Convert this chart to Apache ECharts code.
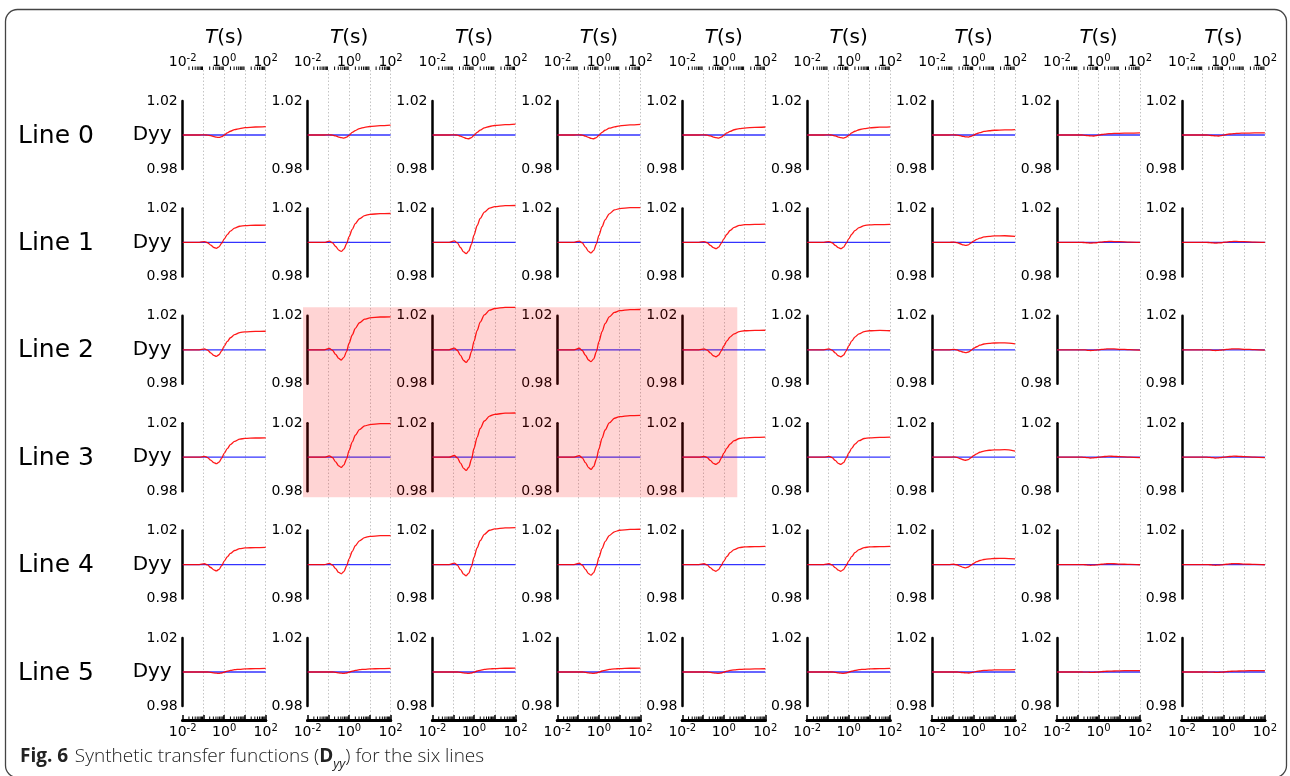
<!DOCTYPE html>
<html><head><meta charset="utf-8">
<script src="https://cdn.jsdelivr.net/npm/echarts@6/dist/echarts.min.js"></script>
<style>html,body{margin:0;padding:0;background:#fff}#c{width:1290px;height:776px}</style>
</head><body><div id="c"></div>
<script>
// ---------------- data ----------------
const ROW_NAMES = ['Line 0', 'Line 1', 'Line 2', 'Line 3', 'Line 4', 'Line 5'];
const Y_NAME = 'Dyy';
const X_TITLE = 'T(s)';
const Y_TICKS = ['0.98', '1.02'];
const X_DECADES = [-2, -1, 0, 1, 2];              // log10 T of decade ticks
const X_TICK_EXP = { '-2': '-2', '0': '0', '2': '2' }; // labelled decades 10^-2, 10^0, 10^2
// sample periods (log10 T)
const LOG_T = [-2, -1.2, -0.95, -0.8, -0.65, -0.5, -0.38, -0.25, -0.12, 0, 0.15, 0.3, 0.5, 0.75, 1, 1.5, 2];
// reference line (blue)
const BLUE = [1, 1, 1, 1, 1, 1, 1, 1, 1, 1, 1, 1, 1, 1, 1, 1, 1];
// red curves: (Dyy - 1) in units of 1e-4, one array per panel column
const RED_UNIT = 1e-4;
const LINE0_RED = [
  [0,0,1,-1,-4,-9,-13,-14,-10,-1,12,22,32,38,43,47,49],
  [0,0,1,-1,-5,-12,-16,-18,-13,-2,15,26,38,45,50,55,58],
  [0,0,1,-1,-7,-14,-20,-22,-15,-2,16,29,42,50,56,61,64],
  [0,0,1,-1,-7,-14,-20,-22,-15,-2,16,28,40,48,54,59,62],
  [0,0,1,-1,-5,-12,-16,-18,-13,-2,12,21,31,37,41,45,47],
  [0,0,1,-1,-5,-12,-16,-18,-13,-2,12,22,31,37,42,46,48],
  [0,0,1,-1,-4,-8,-11,-12,-8,-1,8,14,21,25,28,30,32],
  [0,0,0,0,-2,-4,-5,-6,-4,-1,3,5,8,9,10,11,12],
  [0,0,0,0,-2,-4,-5,-6,-4,-1,3,6,8,10,11,12,13]
];
const LINE1_RED = [
  [0,0,5,-2,-16,-30,-35,-26,-5,20,46,66,84,95,99,101,102],
  [0,0,7,-3,-24,-45,-53,-40,-8,34,77,111,139,158,165,169,170],
  [0,0,9,-3,-30,-56,-66,-50,-10,43,98,141,178,202,210,216,217],
  [0,0,8,-3,-28,-53,-62,-47,-9,41,92,133,168,191,199,204,205],
  [0,0,5,-2,-17,-31,-37,-28,-6,21,48,70,88,100,104,106,107],
  [0,0,5,-2,-17,-31,-37,-28,-6,21,48,69,87,99,103,105,106],
  [0,0,2,-1,-8,-15,-18,-14,-3,8,18,25,32,36,38,39,36],
  [0,0,0,0,-1,-3,-4,-3,-2,0,2,4,6,5,4,2,0],
  [0,0,0,0,-1,-3,-4,-3,-2,0,2,4,6,5,4,2,0]
];
const LINE2_RED = [
  [0,0,5,-2,-18,-33,-39,-29,-6,22,49,71,89,101,106,108,109],
  [0,0,8,-3,-27,-51,-60,-45,-9,39,87,126,159,180,188,193,194],
  [0,0,10,-4,-33,-63,-74,-56,-11,50,113,163,205,233,243,249,250],
  [0,0,9,-4,-32,-60,-70,-53,-11,47,107,154,194,220,230,236,237],
  [0,0,5,-2,-18,-35,-41,-31,-6,23,52,75,94,107,112,114,115],
  [0,0,5,-2,-18,-35,-41,-31,-6,23,52,75,94,107,112,114,112],
  [0,0,2,-1,-8,-14,-17,-13,-3,8,18,27,34,38,40,41,35],
  [0,0,0,0,-1,-3,-4,-3,-2,0,2,4,6,5,3,1,-2],
  [0,0,0,0,-1,-3,-4,-3,-2,0,2,4,6,5,3,1,-2]
];
const LINE3_RED = [
  [0,0,5,-2,-17,-32,-38,-29,-6,23,51,74,93,106,111,113,114],
  [0,0,8,-3,-27,-51,-60,-45,-9,40,89,129,162,184,192,197,198],
  [0,0,10,-4,-35,-66,-78,-59,-12,52,117,169,213,242,252,259,260],
  [0,0,9,-4,-32,-61,-72,-54,-11,49,111,160,202,229,239,245,246],
  [0,0,5,-2,-19,-36,-42,-32,-6,24,53,77,97,110,114,117,118],
  [0,0,5,-2,-19,-36,-42,-32,-6,24,53,77,97,110,114,117,118],
  [0,0,2,-1,-8,-15,-18,-14,-3,9,20,29,36,41,43,44,36],
  [0,0,0,0,-1,-3,-5,-4,-2,0,2,4,6,5,3,1,-2],
  [0,0,0,0,-1,-3,-5,-4,-2,0,2,4,6,5,3,1,-2]
];
const LINE4_RED = [
  [0,0,5,-2,-17,-31,-37,-28,-6,20,45,66,83,94,98,100,101],
  [0,0,7,-3,-24,-46,-54,-41,-8,34,77,111,140,159,166,170,171],
  [0,0,9,-3,-30,-56,-66,-50,-10,43,98,141,178,202,210,216,217],
  [0,0,8,-3,-28,-53,-62,-47,-9,42,94,135,171,193,202,207,208],
  [0,0,5,-2,-18,-33,-39,-29,-6,21,48,70,88,100,104,106,107],
  [0,0,5,-2,-18,-33,-39,-29,-6,21,48,70,88,100,104,106,107],
  [0,0,2,-1,-9,-16,-19,-14,-3,7,17,24,30,34,36,37,34],
  [0,0,0,0,-1,-3,-4,-3,-2,0,2,4,6,5,3,1,-1],
  [0,0,0,0,-1,-3,-4,-3,-2,0,2,4,6,5,3,1,-1]
];
const LINE5_RED = [
  [0,0,0,0,-2,-5,-7,-8,-6,-1,5,9,14,16,18,20,21],
  [0,0,0,0,-2,-5,-7,-8,-6,-1,5,9,14,16,18,20,21],
  [0,0,0,0,-2,-5,-7,-8,-6,-1,6,10,15,18,20,22,23],
  [0,0,0,0,-2,-5,-7,-8,-6,-1,6,10,15,18,20,22,23],
  [0,0,0,0,-2,-5,-7,-8,-6,-1,5,9,12,15,17,18,19],
  [0,0,0,0,-2,-5,-7,-8,-6,-1,5,9,14,16,18,20,21],
  [0,0,0,0,-2,-4,-5,-6,-4,-1,4,6,9,11,12,13,14],
  [0,0,0,0,-1,-1,-2,-2,-1,0,2,4,5,6,7,8,8],
  [0,0,0,0,-1,-1,-2,-2,-1,0,2,4,5,6,7,8,8]
];
const RED_ROWS = [LINE0_RED, LINE1_RED, LINE2_RED, LINE3_RED, LINE4_RED, LINE5_RED];
const CAPTION_BOLD = 'Fig. 6';
const CAPTION = ['Synthetic transfer functions (', 'D', 'yy', ') for the six lines'];

// ---------------- layout ----------------
const L = { colX0: 182.7, colDX: 124.9, pw: 83, rowY0: 101, rowDY: 107.4, ph: 68, axTop: 70, axBot: 720 };
const colX = c => L.colX0 + c * L.colDX;
const rowY = r => L.rowY0 + r * L.rowDY;
const FONT = 'DejaVu Sans';

// minor tick positions (log10 of 2..9 x decade)
const MINOR = [];
for (let d = -2; d < 2; d++) for (let k = 2; k <= 9; k++) MINOR.push(Math.log10(k) + d);

const grid = [], xAxis = [], yAxis = [], series = [], graphic = [];

const tickRich = {
  b: { fontSize: 14, fontFamily: FONT, color: '#000', lineHeight: 18 },
  s: { fontSize: 10, fontFamily: FONT, color: '#000', lineHeight: 10, verticalAlign: 'top' }
};
const tickFmt = v => {
  const key = String(Math.round(v));
  return (Math.abs(v - Math.round(v)) < 1e-9 && X_TICK_EXP[key] !== undefined) ? '{b|10}{s|' + X_TICK_EXP[key] + '}' : '';
};

for (let c = 0; c < 9; c++) {
  const gi = grid.length;
  grid.push({ left: colX(c), top: L.axTop, width: L.pw, height: L.axBot - L.axTop });
  const xTop = xAxis.length;
  xAxis.push({
    gridIndex: gi, type: 'value', position: 'top', min: -2, max: 2, interval: 1,
    axisLine: { show: true, lineStyle: { color: '#000', width: 3 } },
    axisTick: { show: true, inside: false, length: 5, lineStyle: { color: '#000', width: 1.5 } },
    axisLabel: { show: true, margin: -1, formatter: tickFmt, rich: tickRich },
    splitLine: { show: true, showMinLine: false, lineStyle: { color: '#c4c4c4', width: 1, type: [1.5, 2] } },
    name: '{i|T}{n|(s)}', nameLocation: 'middle', nameGap: 21,
    nameTextStyle: { rich: {
      i: { fontSize: 20, fontFamily: FONT, fontStyle: 'italic', color: '#000' },
      n: { fontSize: 20, fontFamily: FONT, color: '#000' } } }
  });
  xAxis.push({
    gridIndex: gi, type: 'value', position: 'bottom', min: -2, max: 2, interval: 1,
    axisLine: { show: true, lineStyle: { color: '#000', width: 3 } },
    axisTick: { show: true, inside: true, length: 5, lineStyle: { color: '#000', width: 1.5 } },
    axisLabel: { show: true, margin: 3, formatter: tickFmt, rich: tickRich },
    splitLine: { show: false }
  });
  const yi = yAxis.length;
  yAxis.push({ gridIndex: gi, type: 'value', min: 0, max: 1, show: false, splitLine: { show: false } });
  const minorData = [];
  MINOR.forEach(m => { minorData.push([m, 1]); minorData.push([m, 0]); });
  series.push({
    type: 'custom', xAxisIndex: xTop, yAxisIndex: yi, data: minorData, silent: true, clip: false, z: 5,
    renderItem: (params, api) => {
      const p = api.coord([api.value(0), api.value(1)]);
      return { type: 'line', shape: { x1: p[0], y1: p[1], x2: p[0], y2: p[1] - 3.5 },
        style: { stroke: '#000', lineWidth: 1 } };
    }
  });
}

for (let r = 0; r < 6; r++) {
  const yMid = rowY(r) + L.ph / 2;
  for (let c = 0; c < 9; c++) {
    const gi = grid.length;
    grid.push({ left: colX(c), top: rowY(r), width: L.pw, height: L.ph });
    const xi = xAxis.length;
    xAxis.push({ gridIndex: gi, type: 'value', min: -2, max: 2, show: false, splitLine: { show: false } });
    const yi = yAxis.length;
    yAxis.push({
      gridIndex: gi, type: 'value', min: 0.98, max: 1.02, interval: 0.02,
      axisLine: { show: true, onZero: false, lineStyle: { color: '#000', width: 2.5 } },
      axisTick: { show: false },
      splitLine: { show: false },
      axisLabel: { show: true, margin: 5, fontSize: 14, fontFamily: FONT, color: '#000',
        formatter: v => { const s = v.toFixed(2); return Y_TICKS.indexOf(s) >= 0 ? s : ''; } }
    });
    series.push({
      type: 'line', xAxisIndex: xi, yAxisIndex: yi, showSymbol: false, symbol: 'none', silent: true, clip: false,
      data: LOG_T.map((x, i) => [x, BLUE[i]]),
      lineStyle: { color: '#0000ff', width: 1.3, opacity: 0.8 }, z: 3
    });
    const red = RED_ROWS[r][c];
    series.push({
      type: 'line', xAxisIndex: xi, yAxisIndex: yi, showSymbol: false, symbol: 'none', silent: true, clip: false,
      smooth: 0.3, smoothMonotone: 'x',
      data: LOG_T.map((x, i) => [x, 1 + red[i] * RED_UNIT]),
      lineStyle: { color: '#ff0000', width: 1.3, opacity: 0.9 }, z: 4
    });
  }
  graphic.push({
    type: 'text', x: 18, y: yMid + 1,
    style: { text: ROW_NAMES[r], fontSize: 25, fontFamily: FONT, fill: '#000', align: 'left', verticalAlign: 'middle' }
  });
  graphic.push({
    type: 'text', x: colX(0) - 11, y: yMid,
    style: { text: Y_NAME, fontSize: 20, fontFamily: FONT, fill: '#000', align: 'right', verticalAlign: 'middle' }
  });
}

// highlight box (rows 2-3, columns 1-4)
graphic.push({
  type: 'rect', z: 100,
  shape: { x: colX(1) - 4.6, y: rowY(2) - 8.5, width: colX(4) + 55 - (colX(1) - 4.6), height: rowY(3) + L.ph + 6 - (rowY(2) - 8.5) },
  style: { fill: 'rgba(255,0,0,0.17)' }
});
// figure frame
graphic.push({
  type: 'rect', z: 0,
  shape: { x: 5.5, y: 9.5, width: 1281, height: 768, r: 12 },
  style: { fill: 'none', stroke: '#444', lineWidth: 1.3 }
});
// caption
graphic.push({
  type: 'text', x: 20, y: 757,
  style: {
    text: '{b|' + CAPTION_BOLD + '}  {n|' + CAPTION[0] + '}{d|' + CAPTION[1] + '}{sub|' + CAPTION[2] + '}{n|' + CAPTION[3] + '}',
    align: 'left', verticalAlign: 'middle',
    rich: {
      b: { fontSize: 19, fontFamily: 'Open Sans', fontWeight: 'bold', fill: '#222', lineHeight: 22 },
      n: { fontSize: 19, fontFamily: 'Open Sans', fontWeight: 300, fill: '#222', lineHeight: 22 },
      d: { fontSize: 19, fontFamily: 'Open Sans', fontWeight: 'bold', fill: '#222', lineHeight: 22 },
      sub: { fontSize: 13, fontFamily: 'Open Sans', fontStyle: 'italic', fill: '#222', lineHeight: 13, verticalAlign: 'bottom', padding: [0, 0, -3, 0] }
    }
  }
});

const chart = echarts.init(document.getElementById('c'), null, { renderer: 'canvas' });
chart.setOption({ animation: false, backgroundColor: '#fff', grid, xAxis, yAxis, series, graphic });
</script>
</body></html>
